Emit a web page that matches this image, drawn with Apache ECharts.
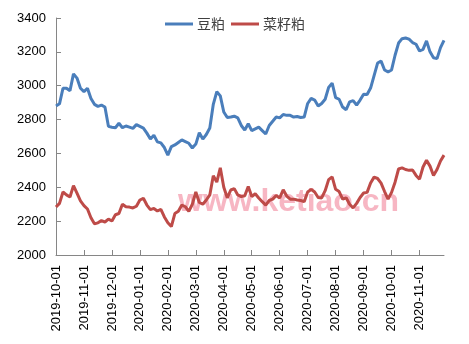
<!DOCTYPE html>
<html><head><meta charset="utf-8">
<script src="https://cdn.jsdelivr.net/npm/echarts@6/dist/echarts.min.js"></script>
<style>html,body{margin:0;padding:0;background:#fff}#c{width:469px;height:344px}</style>
</head><body><div id="c"></div>
<script>
var monthLabels = ['2019-10-01','2019-11-01','2019-12-01','2020-01-01','2020-02-01','2020-03-01','2020-04-01','2020-05-01','2020-06-01','2020-07-01','2020-08-01','2020-09-01','2020-10-01','2020-11-01'];
var pointsPerMonth = 8;
var seriesNames = ['豆粕','菜籽粕'];
var soymeal = [2880,2893,2985,2985,2970,3070,3045,2985,2965,2985,2925,2890,2878,2885,2874,2760,
2755,2752,2778,2752,2762,2755,2748,2770,2760,2750,2720,2685,2708,2668,2662,2635,
2590,2640,2650,2665,2680,2670,2660,2632,2655,2722,2685,2712,2750,2890,2965,2940,
2845,2812,2815,2820,2810,2765,2738,2775,2735,2745,2755,2735,2715,2765,2790,2815,
2810,2830,2825,2825,2815,2818,2812,2815,2895,2925,2915,2880,2895,2920,2990,3015,
2930,2920,2874,2858,2905,2912,2886,2915,2950,2948,2986,3060,3134,3145,3093,3082,
3093,3180,3252,3278,3282,3275,3255,3245,3205,3215,3265,3200,3165,3160,3225,3268];
var rapemeal = [2283,2305,2372,2355,2343,2410,2365,2320,2292,2272,2220,2185,2190,2203,2195,2212,
2201,2238,2245,2300,2285,2283,2278,2288,2325,2335,2295,2268,2275,2260,2270,2225,
2190,2168,2245,2258,2295,2285,2258,2300,2372,2310,2300,2325,2355,2468,2431,2515,
2400,2338,2384,2392,2355,2345,2350,2405,2345,2362,2337,2315,2295,2322,2330,2352,
2337,2385,2348,2330,2330,2325,2322,2315,2372,2388,2372,2340,2337,2380,2445,2462,
2388,2375,2330,2338,2300,2278,2305,2340,2366,2370,2425,2460,2452,2425,2375,2330,
2370,2430,2508,2515,2505,2500,2502,2470,2448,2520,2560,2525,2470,2505,2555,2590];
var watermark = 'www.ketiao.cn';

var categories = [];
monthLabels.forEach(function(m){
  categories.push(m);
  for (var k = 1; k < pointsPerMonth; k++) categories.push(m + '#' + k);
});
var isMonth = function(idx){ return idx % pointsPerMonth === 0; };

var chart = echarts.init(document.getElementById('c'), null, {renderer:'canvas'});
var font = '"Liberation Sans", Arial, sans-serif';
chart.setOption({
  animation:false,
  backgroundColor:'#fff',
  grid:{left:56, right:25, top:18, bottom:89, containLabel:false},
  legend:{
    top:12, left:160, itemWidth:28, itemHeight:3, itemGap:6, icon:'rect',
    textStyle:{fontFamily:'"Noto Sans CJK SC", sans-serif', fontSize:14, color:'#404040', padding:[0,0,0,-1]},
    data:seriesNames
  },
  graphic:[{type:'text', left:178, top:186, z:1, silent:true,
    style:{text:watermark, fill:'rgba(240,110,135,0.5)', font:'bold 32px "Liberation Sans", Arial, sans-serif'}}],
  xAxis:{
    type:'category', data:categories, boundaryGap:false,
    axisLine:{lineStyle:{color:'#868686', width:1}},
    axisTick:{inside:true, length:5, interval:function(i){return isMonth(i);}, lineStyle:{color:'#868686'}},
    axisLabel:{rotate:90, margin:10, interval:function(i){return isMonth(i);}, color:'#000', fontFamily:font, fontSize:13},
    splitLine:{show:false}
  },
  yAxis:{
    type:'value', min:2000, max:3400, interval:200,
    axisLine:{show:true, lineStyle:{color:'#868686', width:1}},
    axisTick:{show:true, inside:true, length:5, lineStyle:{color:'#868686'}},
    axisLabel:{margin:10, color:'#000', fontFamily:font, fontSize:13, formatter:function(v){return String(v);}},
    splitLine:{show:false}
  },
  series:[
    {name:seriesNames[0], type:'line', data:soymeal, showSymbol:false, symbol:'none', z:3,
     lineStyle:{color:'#4A7EBB', width:3}, itemStyle:{color:'#4A7EBB'}},
    {name:seriesNames[1], type:'line', data:rapemeal, showSymbol:false, symbol:'none', z:3,
     lineStyle:{color:'#BE4B48', width:3}, itemStyle:{color:'#BE4B48'}}
  ]
});
</script></body></html>
